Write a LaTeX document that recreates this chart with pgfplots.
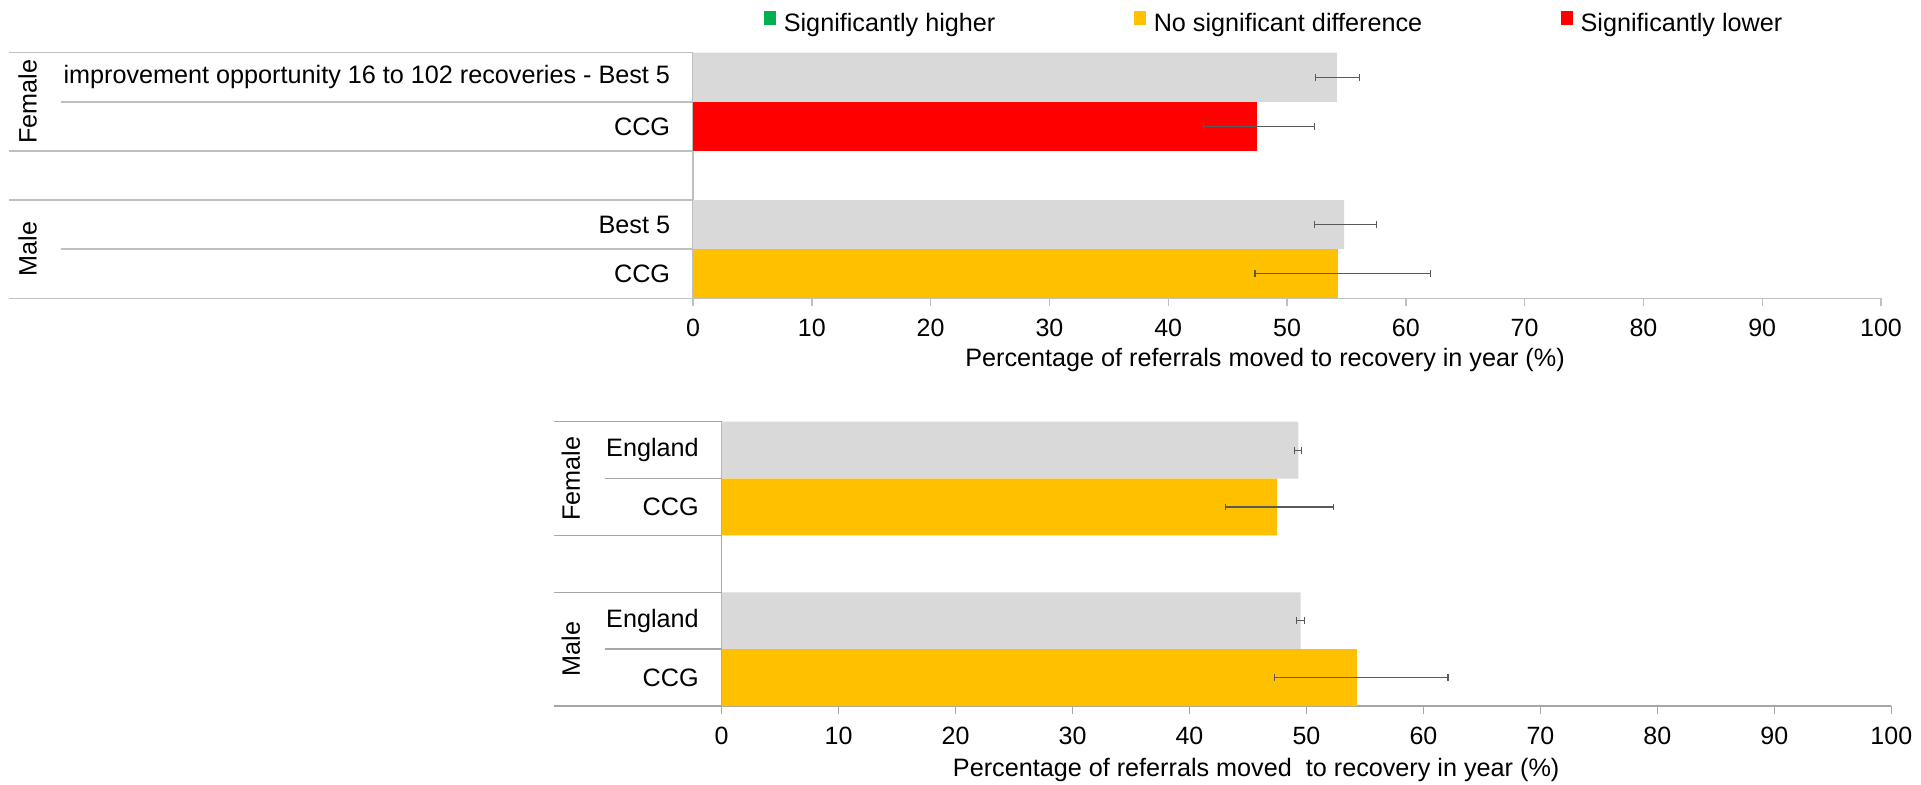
\documentclass[border=0pt]{standalone}
\usepackage{fontspec}
\setmainfont{Liberation Sans}
\usepackage{pgfplots}
\pgfplotsset{compat=1.18}
\usepackage{pgfplotstable}
\definecolor{barGray}{HTML}{D9D9D9}
\definecolor{barRed}{HTML}{FF0000}
\definecolor{barYel}{HTML}{FFC000}
\definecolor{legG}{HTML}{00B050}
\definecolor{lineGray}{HTML}{BFBFBF}
\definecolor{lineGrayB}{HTML}{A6A6A6}
\definecolor{errGray}{HTML}{595959}
\newcommand\fs{\fontsize{12.6}{15}\selectfont}
\newcommand\fst{\fontsize{12.5}{15}\selectfont}

\pgfplotstableread{
p v em ep
4 54.2 1.8 1.9
1 54.8 2.5 2.7
}\topgray
\pgfplotstableread{
p v em ep
3 47.5 4.5 4.8
}\topred
\pgfplotstableread{
p v em ep
0 54.3 7.0 7.8
}\topyel
\pgfplotstableread{
p v em ep
4 49.3 0.3 0.3
1 49.5 0.33 0.33
}\botgray
\pgfplotstableread{
p v em ep
3 47.5 4.45 4.8
0 54.3 7.0 7.8
}\botyel

\pgfplotsset{
 mybase/.style={
  xbar, xmin=0, xmax=100, ymin=-0.5, ymax=4.5,
  axis x line*=bottom, axis y line*=left,
  axis line style={#1, line width=0.7pt},
  xtick={0,10,...,100}, tick align=outside, major tick length=4pt,
  x tick style={#1, line width=0.7pt},
  ytick={0,1,3,4}, y tick style={draw=none},
  /pgf/number format/assume math mode=true,
  xticklabel style={font=\fst, anchor=north, inner sep=0pt, yshift=-6.2pt},
  yticklabel style={font=\fs, anchor=east, inner sep=0pt, xshift=-7.25pt},
  label style={font=\fs, inner sep=0pt},
  clip=false,
 },
 barplot/.style={fill=#1, draw=none, bar shift=0pt, forget plot,
  error bars/.cd, x dir=both, x explicit, error mark=|,
  error bar style={errGray, line width=0.6pt},
  error mark options={errGray, line width=0.6pt, mark size=1.7pt}},
 sq/.style={legend image code/.code={\fill[#1] (0pt,0pt) rectangle (5.5pt,6.5pt);}},
}

\begin{document}
\begin{tikzpicture}
\useasboundingbox (0,0) rectangle (960.5pt,-392pt);
% ---------------- top chart ----------------
\begin{axis}[mybase=lineGray,
  at={(346.5pt,-149.15pt)}, anchor=south west,
  x=5.94pt, y=24.56pt, bar width=24.56pt,
  yticklabels={CCG, Best 5, CCG, improvement opportunity 16 to 102 recoveries - Best 5},
  xlabel={Percentage of referrals moved to recovery in year (\%)},
  xlabel style={at={(axis description cs:0.4815,0)}, anchor=center, yshift=-30.9pt},
  legend columns=3,
  legend style={at={(0.0598,1.122)}, anchor=west, draw=none, fill=none,
    inner sep=0pt, nodes={inner sep=0pt, font=\fs},
    /tikz/every odd column/.append style={column sep=3.8pt},
    /tikz/every even column/.append style={column sep=69.5pt}},
]
\addplot[barplot=barGray] table[x=v, y=p, x error minus=em, x error plus=ep] {\topgray};
\addplot[barplot=barRed] table[x=v, y=p, x error minus=em, x error plus=ep] {\topred};
\addplot[barplot=barYel] table[x=v, y=p, x error minus=em, x error plus=ep] {\topyel};
\addlegendimage{sq=legG}\addlegendentry{Significantly higher}
\addlegendimage{sq=barYel}\addlegendentry{No significant difference}
\addlegendimage{sq=barRed}\addlegendentry{Significantly lower}
\draw[lineGray, line width=0.7pt] (axis cs:0,4.5) -- ++(-342pt,0pt);
\draw[lineGray, line width=0.7pt] (axis cs:0,2.5) -- ++(-342pt,0pt);
\draw[lineGray, line width=0.7pt] (axis cs:0,1.5) -- ++(-342pt,0pt);
\draw[lineGray, line width=0.7pt] (axis cs:0,-0.5) -- ++(-342pt,0pt);
\draw[lineGray, line width=0.7pt] (axis cs:0,3.5) -- ++(-316pt,0pt);
\draw[lineGray, line width=0.7pt] (axis cs:0,0.5) -- ++(-316pt,0pt);
\node[rotate=90, font=\fs] at (axis cs:-56.0,3.5) {Female};
\node[rotate=90, font=\fs] at (axis cs:-56.0,0.5) {Male};
\end{axis}
% ---------------- bottom chart ----------------
\begin{axis}[mybase=lineGrayB,
  at={(360.8pt,-353pt)}, anchor=south west,
  x=5.8485pt, y=28.43pt, bar width=28.43pt,
  yticklabels={CCG, England, CCG, England},
  xlabel={Percentage of referrals moved\ \ to recovery in year (\%)},
  xlabel style={at={(axis description cs:0.457,0)}, anchor=center, yshift=-32pt},
]
\addplot[barplot=barGray] table[x=v, y=p, x error minus=em, x error plus=ep] {\botgray};
\addplot[barplot=barYel] table[x=v, y=p, x error minus=em, x error plus=ep] {\botyel};
\draw[lineGrayB, line width=0.7pt] (axis cs:0,4.5) -- ++(-83.8pt,0pt);
\draw[lineGrayB, line width=0.7pt] (axis cs:0,2.5) -- ++(-83.8pt,0pt);
\draw[lineGrayB, line width=0.7pt] (axis cs:0,1.5) -- ++(-83.8pt,0pt);
\draw[lineGrayB, line width=0.7pt] (axis cs:0,-0.5) -- ++(-83.8pt,0pt);
\draw[lineGrayB, line width=0.7pt] (axis cs:0,3.5) -- ++(-58.3pt,0pt);
\draw[lineGrayB, line width=0.7pt] (axis cs:0,0.5) -- ++(-58.3pt,0pt);
\node[rotate=90, font=\fs] at (axis cs:-12.88,3.5) {Female};
\node[rotate=90, font=\fs] at (axis cs:-12.88,0.5) {Male};
\end{axis}
\end{tikzpicture}
\end{document}
